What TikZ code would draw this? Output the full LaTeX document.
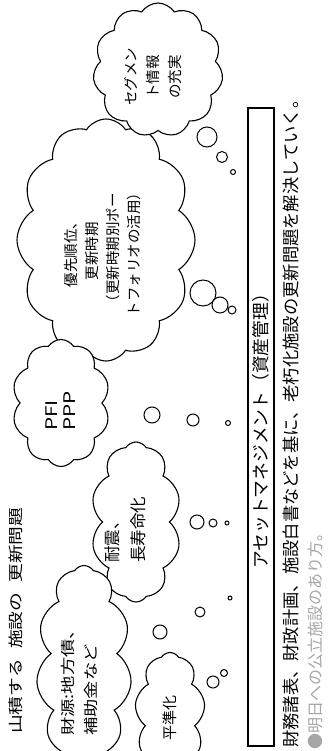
\documentclass[tikz,border=0pt]{standalone}
\usepackage{fontspec}
\setmainfont{Noto Sans CJK JP}
\usetikzlibrary{shapes.symbols}
\newcommand{\fs}[2]{\fontsize{#1pt}{#2pt}\selectfont}
\begin{document}
\begin{tikzpicture}[x=1pt,y=-1pt,
  cl/.style={cloud, cloud puffs=#1, cloud puff arc=115, cloud ignores aspect,
    draw=black, line width=1.1pt, fill=white, inner sep=0pt},
  bub/.style={circle, draw=black, line width=1.0pt, fill=white, inner sep=0pt},
  lbl/.style={rotate=90, inner sep=0pt, text=black}]
\useasboundingbox (0,0) rectangle (330,751);
\clip (0,0) rectangle (330,751);

% title
\node[lbl, anchor=west] (title) at (16,734)
  {\scalebox{1.25}[1]{\fs{15}{18}山積する\hspace{8pt}施設の\hspace{8pt}更新問題}};

% clouds
\node[cl=12, minimum width=178pt, minimum height=242pt] (cE) at (106,240) {};
\node[cl=10, minimum width=98pt, minimum height=127pt] (cD) at (61,403) {};
\node[cl=10, minimum width=90pt, minimum height=160pt] (cC) at (136,522) {};
\node[cl=11, minimum width=95pt, minimum height=205pt] (cA) at (84,668) {};
\node[cl=9, minimum width=70pt, minimum height=125pt] (cB) at (170,715) {};
\node[cl=11, minimum width=130pt, minimum height=134pt] (cF) at (158,70) {};

% cloud texts
\node[lbl, align=center, font={\fs{14.5}{21}}] (tE) at (103,251)
  {優先順位、\\更新時期\\（更新時期別ポー\\トフォリオの活用）};
\node[lbl, align=center, font={\fs{14.5}{22}}] (tF) at (153,77)
  {セグメン\\ト情報\\の充実};
\node[lbl, align=left, anchor=west, font={\fs{16.5}{26}}] (tC) at (125,563)
  {耐震、\\長寿命化};
\node[lbl, anchor=west] (tD) at (60.5,431)
  {\scalebox{1.3}[1]{\fs{16}{23}\shortstack[l]{PFI\\[4pt]PPP}}};
\node[lbl, anchor=west] (tA) at (79.5,736)
  {\scalebox{1.26}[1]{\fs{14.5}{23}\shortstack[l]{財源:地方債、\\[6pt]補助金など}}};
\node[lbl] (tB) at (170,718) {\fs{15}{18}平準化};

% bubbles from F
\node[bub, minimum size=20pt] (f1) at (207,137) {};
\node[bub, minimum size=11pt] (f2) at (222,157) {};
\node[bub, minimum size=5pt] (f3) at (233,172) {};
% bubbles from E
\node[bub, minimum size=26pt] (e1) at (203,293) {};
\node[bub, minimum size=16pt] (e2) at (220,305) {};
\node[bub, minimum size=8pt] (e3) at (232,310) {};
% bubbles from D
\node[bub, minimum size=16pt] (d1) at (152,415) {};
\node[bub, minimum size=12pt] (d2) at (193,420) {};
\node[bub, minimum size=5pt] (d3) at (228,423) {};
% bubbles from C
\node[bub, minimum size=14pt] (c1) at (197,522) {};
\node[bub, minimum size=8pt] (c2) at (213,523) {};
\node[bub, minimum size=4pt] (c3) at (227,523) {};
% bubbles from A
\node[bub, minimum size=14pt] (a1) at (160,632) {};
\node[bub, minimum size=10pt] (a2) at (200,612) {};
\node[bub, minimum size=4pt] (a3) at (230,598) {};
% bubbles from B
\node[bub, minimum size=12pt] (b1) at (213,682) {};
\node[bub, minimum size=7pt] (b2) at (224,673) {};

% asset management box
\node[rotate=90, draw=black, line width=2.8pt, minimum width=638pt, minimum height=26pt, inner sep=0pt] (box) at (261,427)
  {\fs{17.75}{20}アセットマネジメント（資産管理）};

% bottom lines
\node[lbl, anchor=west] (note) at (291,748)
  {\fs{17.3}{20}財務諸表、財政計画、施設白書などを基に、老朽化施設の更新問題を解決していく。};
\node[lbl, anchor=west, text=black!35] (src) at (315,750)
  {\fs{16}{18}●明日への公立施設のあり方。};
\end{tikzpicture}
\end{document}
